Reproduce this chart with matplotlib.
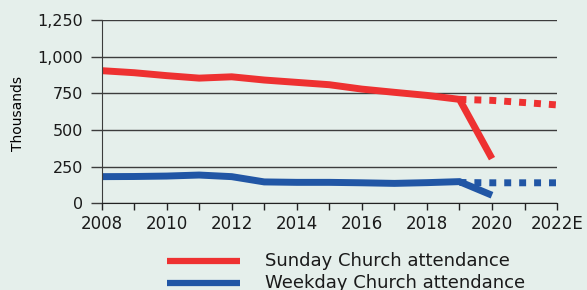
import matplotlib
matplotlib.use('Agg')
import matplotlib.pyplot as plt
from matplotlib.lines import Line2D

# Data (thousands)
years = list(range(2008, 2021))
sunday = [906, 892, 872, 855, 864, 842, 826, 810, 780, 758, 737, 710, 305]
weekday = [182, 183, 186, 193, 182, 146, 143, 143, 140, 136, 141, 148, 55]

proj_years = [2019, 2020, 2021, 2022]
sunday_proj = [710, 703, 688, 672]
weekday_proj = [142, 140, 140, 140]

tick_years = list(range(2008, 2023))
tick_labels = ['2008', '', '2010', '', '2012', '', '2014', '', '2016', '',
               '2018', '', '2020', '', '2022E']

labels = ['Sunday Church attendance', 'Weekday Church attendance']
red = '#ee3131'
blue = '#2156a5'
bg = '#e5efeb'

plt.rcParams['font.family'] = ['DejaVu Sans']

fig = plt.figure(figsize=(5.87, 2.90), dpi=100, facecolor=bg)
ax = fig.add_axes([0.173, 0.299, 0.776, 0.631], facecolor=bg)

# Gridlines
ax.set_ylim(0, 1250)
ax.set_yticks([0, 250, 500, 750, 1000, 1250])
ax.set_yticklabels(['0', '250', '500', '750', '1,000', '1,250'], fontsize=11.5, color='#1a1a1a')
ax.grid(axis='y', color='#3c3c3c', linewidth=1.0)
ax.set_axisbelow(True)

# Lines
dots = (0, (1.0, 1.15))
ax.plot(years, sunday, color=red, linewidth=5, solid_capstyle='butt', solid_joinstyle='miter')
ax.plot(years, weekday, color=blue, linewidth=5, solid_capstyle='butt', solid_joinstyle='miter')
ax.plot(proj_years, sunday_proj, color=red, linewidth=5, linestyle=dots, dash_capstyle='butt')
ax.plot(proj_years, weekday_proj, color=blue, linewidth=5, linestyle=dots, dash_capstyle='butt')

ax.set_xlim(2008, 2022)
ax.set_xticks(tick_years)
ax.set_xticklabels(tick_labels, fontsize=12, color='#1a1a1a')
ax.tick_params(axis='x', length=5, width=1, color='#222222', pad=3.5)
ax.tick_params(axis='y', length=8, width=1, color='#3c3c3c', pad=5)

for side in ['top', 'right']:
    ax.spines[side].set_visible(False)
ax.spines['left'].set_color('#3c3c3c')
ax.spines['bottom'].set_color('#222222')

ax.set_ylabel('Thousands', fontsize=10)
ax.yaxis.set_label_coords(-0.169, 0.488)

# Legend drawn below the chart
for i, (lab, col) in enumerate(zip(labels, [red, blue])):
    y = 1 - (261 + 22 * i) / 290
    fig.add_artist(Line2D([167 / 587, 240 / 587], [y, y], color=col, linewidth=4.5,
                          solid_capstyle='butt', transform=fig.transFigure))
    fig.text(265 / 587, y, lab, fontsize=13, va='center', ha='left', color='#1a1a1a')

fig.savefig('out.png', dpi=100, facecolor=bg)
